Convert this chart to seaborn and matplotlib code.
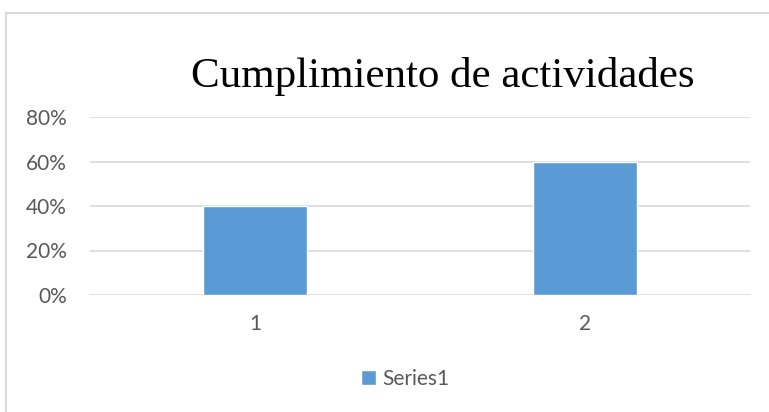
import pandas as pd
import matplotlib.pyplot as plt
import seaborn as sns
from matplotlib.patches import Rectangle
from matplotlib.ticker import PercentFormatter

categorias = ["1", "2"]
valores = [0.40, 0.60]
serie = ["Series1", "Series1"]

df = pd.DataFrame({"cat": categorias, "val": valores, "serie": serie})

sns.set_style("white")
plt.rcParams['font.family'] = ['Lato', 'DejaVu Sans']

fig = plt.figure(figsize=(7.69, 4.12), dpi=100)
ax = fig.add_axes([90 / 769, 1 - 295 / 412, 660 / 769, 178 / 412])

sns.barplot(data=df, x="cat", y="val", hue="serie", palette=["#5B9BD5"],
            width=0.315, saturation=1, ax=ax, legend=True)

ax.set_xlim(-0.5, 1.5)
ax.set_ylim(0, 0.8)
ax.set_yticks([0, 0.2, 0.4, 0.6, 0.8])
ax.yaxis.set_major_formatter(PercentFormatter(1.0, decimals=0))
ax.grid(axis="y", color="#d9d9d9", linewidth=1.2)
ax.set_axisbelow(True)
for s in ax.spines.values():
    s.set_visible(False)
ax.tick_params(axis="y", length=0, pad=16.5, labelsize=15, labelcolor="#595959")
ax.tick_params(axis="x", length=0, pad=14, labelsize=15, labelcolor="#595959")
ax.set_xlabel("")
ax.set_ylabel("")

handles, labels = ax.get_legend_handles_labels()
ax.get_legend().remove()
fig.legend(handles, labels, loc="center", bbox_to_anchor=(405 / 769, 1 - 379 / 412),
           frameon=False, fontsize=15, handlelength=0.7, handleheight=0.7,
           handletextpad=0.3, labelcolor="#595959")

fig.text(443 / 769, 1 - 76 / 412, "Cumplimiento de actividades", ha="center", va="center",
         fontsize=31, family=["Liberation Serif", "DejaVu Serif"], color="black")

fig.patches.append(Rectangle((6 / 769, -0.1), 1.2, 1 - 13 / 412 + 0.1, transform=fig.transFigure,
                             fill=False, edgecolor="#d9d9d9", linewidth=1.5))

fig.savefig("out.png", dpi=100)
